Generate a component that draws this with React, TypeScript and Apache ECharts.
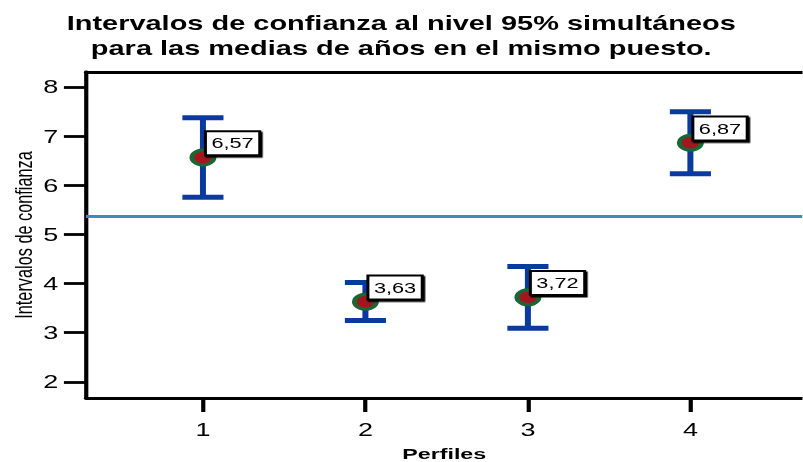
import React, { useEffect, useRef } from "react";
import * as echarts from "echarts";

const perfiles = [1, 2, 3, 4];
const medias = [6.57, 3.63, 3.72, 6.87];
const inferiores = [5.76, 3.25, 3.09, 6.24];
const superiores = [7.38, 4.02, 4.35, 7.5];
const lineaReferencia = 5.37;
const yTicks = [2, 3, 4, 5, 6, 7, 8];
const xTicks = [1, 2, 3, 4];

const fmt = (v: number) => v.toFixed(2).replace(".", ",");

// The reference is stretched horizontally; the chart is drawn in a narrower
// box and widened with a CSS transform.
const STRETCH = 1.5;
const PAGE_W = 803;
const PAGE_H = 462;

export default function App() {
  const ref = useRef<HTMLDivElement>(null);
  useEffect(() => {
    if (!ref.current) return;
    const chart = echarts.init(ref.current, undefined, { renderer: "svg" });
    const font = "Liberation Sans, Arial, sans-serif";
    const barData = perfiles.map((p, i) => [p, inferiores[i], superiores[i]]);
    const ptData = perfiles.map((p, i) => [p, medias[i]]);
    chart.setOption({
      animation: false,
      backgroundColor: "#ffffff",
      title: {
        text: "Intervalos de confianza al nivel 95% simultáneos\npara las medias de años en el mismo puesto.",
        left: "center",
        top: 6,
        textStyle: {
          fontFamily: font,
          fontWeight: "bold",
          fontSize: 19.3,
          lineHeight: 25,
          color: "#000",
        },
      },
      grid: { left: 57.3, right: 0, top: 72, bottom: 64, containLabel: false, outerBoundsMode: "none" },
      xAxis: [
        {
          type: "value",
          min: 0.28,
          max: 4.69,
          axisLine: { show: true, onZero: false, lineStyle: { color: "#000", width: 2.8 } },
          axisTick: { show: true, customValues: xTicks, length: 14, lineStyle: { color: "#000", width: 2.8 } },
          axisLabel: { customValues: xTicks, fontSize: 18, color: "#000", margin: 23, fontFamily: font },
          splitLine: { show: false },
          name: "Perfiles",
          nameLocation: "middle",
          nameGap: 48,
          nameMoveOverlap: false,
          nameTextStyle: { fontFamily: font, fontWeight: "bold", fontSize: 15.5, color: "#000" },
        },
        {
          type: "value",
          position: "top",
          min: 0.28,
          max: 4.69,
          axisLine: { show: true, onZero: false, lineStyle: { color: "#000", width: 2.8 } },
          axisTick: { show: false },
          axisLabel: { show: false },
          splitLine: { show: false },
        },
      ],
      yAxis: {
        type: "value",
        min: 1.67,
        max: 8.31,
        axisLine: { show: true, onZero: false, lineStyle: { color: "#000", width: 2.8 } },
        axisTick: { show: true, customValues: yTicks, length: 14.7, lineStyle: { color: "#000", width: 2.8 } },
        axisLabel: { customValues: yTicks, fontSize: 18, color: "#000", margin: 18.5, fontFamily: font },
        splitLine: { show: false },
        name: "Intervalos de confianza",
        nameLocation: "middle",
        nameGap: 34,
        nameMoveOverlap: false,
        nameTextStyle: { fontFamily: font, fontSize: 16.3, color: "#000" },
      },
      series: [
        {
          type: "line",
          data: [],
          markLine: {
            symbol: "none",
            silent: true,
            label: { show: false },
            lineStyle: { color: "#3a8db3", width: 3, type: "solid" },
            data: [{ yAxis: lineaReferencia }],
          },
        },
        {
          type: "custom",
          data: barData,
          encode: { x: 0, y: [1, 2] },
          renderItem: (params: any, api: any) => {
            const x = api.value(0);
            const top = api.coord([x, api.value(2)]);
            const bot = api.coord([x, api.value(1)]);
            const hw = 13.7;
            const stem = { stroke: "#0a3a9c", lineWidth: 4 };
            const cap = { stroke: "#0a3a9c", lineWidth: 5 };
            return {
              type: "group",
              children: [
                { type: "line", shape: { x1: top[0], y1: top[1], x2: bot[0], y2: bot[1] }, style: stem },
                { type: "line", shape: { x1: top[0] - hw, y1: top[1], x2: top[0] + hw, y2: top[1] }, style: cap },
                { type: "line", shape: { x1: bot[0] - hw, y1: bot[1], x2: bot[0] + hw, y2: bot[1] }, style: cap },
              ],
            };
          },
        },
        {
          type: "scatter",
          data: ptData,
          symbol: "circle",
          symbolSize: 18,
          itemStyle: { color: "#1c6636", opacity: 1 },
          z: 3,
        },
        {
          type: "scatter",
          data: ptData,
          symbol: "circle",
          symbolSize: 11.5,
          itemStyle: { color: "#a3161e", opacity: 1 },
          z: 5,
          label: {
            show: true,
            position: [8.4, -19.5],
            align: "left",
            verticalAlign: "top",
            formatter: (p: any) => fmt(p.value[1]),
            fontFamily: font,
            fontSize: 14.5,
            color: "#000",
            backgroundColor: "#fff",
            borderColor: "#000",
            borderWidth: 2,
            padding: [3.5, 3, 3.5, 3],
            shadowColor: "#000",
            shadowOffsetX: 1,
            shadowOffsetY: 1.5,
            shadowBlur: 0,
          },
        },
      ],
    });
    return () => chart.dispose();
  }, []);
  return (
    <div
      style={{ position: "fixed", left: 0, top: 0, width: PAGE_W, height: PAGE_H, overflow: "hidden", background: "#fff" }}
    >
      <div
        ref={ref}
        style={{
          width: PAGE_W / STRETCH,
          height: PAGE_H,
          transform: `scaleX(${STRETCH})`,
          transformOrigin: "0 0",
        }}
      />
    </div>
  );
}
